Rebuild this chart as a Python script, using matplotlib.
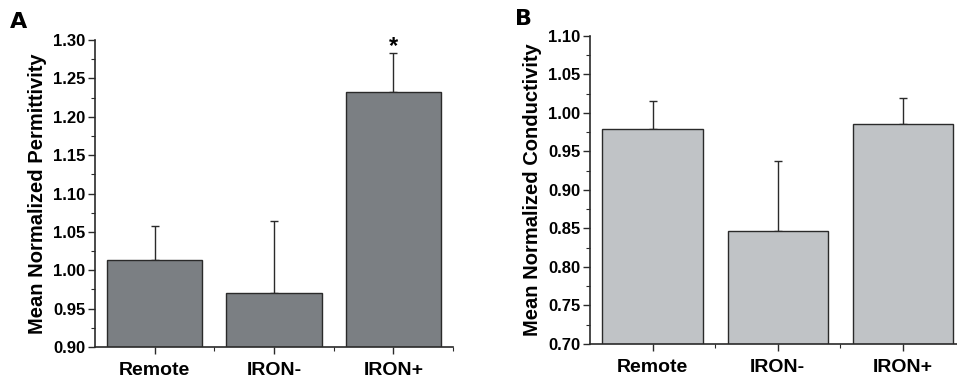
import matplotlib
matplotlib.use('Agg')
import matplotlib.pyplot as plt
from matplotlib.ticker import MultipleLocator, FixedLocator

plt.rcParams['font.family'] = ['Liberation Sans', 'DejaVu Sans']

groups = ['Remote', 'IRON-', 'IRON+']

permittivity = [1.013, 0.971, 1.232]
permittivity_err = [0.045, 0.093, 0.051]

conductivity = [0.979, 0.847, 0.985]
conductivity_err = [0.037, 0.091, 0.035]

fig = plt.figure(figsize=(9.57, 3.78), dpi=100)
axA = fig.add_axes([0.0993, 0.082, 0.374, 0.812])
axB = fig.add_axes([0.6165, 0.090, 0.392, 0.815])


def style_panel(ax, values, errs, color, ylim, ylabel):
    x = [1, 2, 3]
    ax.bar(x, values, width=0.8, color=color, edgecolor='#2a2a2a', linewidth=1.0, zorder=2)
    ax.errorbar(x, values, yerr=[[0, 0, 0], errs], fmt='none', ecolor='#2a2a2a',
                elinewidth=1.0, capsize=3, capthick=1.0, zorder=1)
    ax.set_xlim(0.5, 3.5)
    ax.set_ylim(*ylim)
    ax.set_xticks(x)
    ax.set_xticklabels(groups, fontsize=14, fontweight='bold')
    ax.xaxis.set_minor_locator(FixedLocator([1.5, 2.5, 3.5]))
    ax.yaxis.set_major_locator(MultipleLocator(0.05))
    ax.yaxis.set_minor_locator(MultipleLocator(0.025))
    ax.yaxis.set_major_formatter(matplotlib.ticker.FormatStrFormatter('%.2f'))
    for lab in ax.get_yticklabels():
        lab.set_fontsize(12)
        lab.set_fontweight('bold')
    ax.tick_params(axis='both', which='major', direction='out', length=5, width=1, color='#2a2a2a')
    ax.tick_params(axis='both', which='minor', direction='out', length=3, width=0.8, color='#2a2a2a')
    ax.tick_params(axis='y', which='major', pad=2)
    ax.tick_params(axis='x', which='major', pad=6)
    ax.spines['top'].set_visible(False)
    ax.spines['right'].set_visible(False)
    for s in ['left', 'bottom']:
        ax.spines[s].set_linewidth(1.2)
        ax.spines[s].set_color('#2a2a2a')
    ax.set_ylabel(ylabel, fontsize=14.5, fontweight='bold', labelpad=4)


style_panel(axA, permittivity, permittivity_err, '#7b7f83', (0.90, 1.30),
            'Mean Normalized Permittivity')
style_panel(axB, conductivity, conductivity_err, '#c0c3c6', (0.70, 1.10),
            'Mean Normalized Conductivity')

axA.text(3, permittivity[2] + permittivity_err[2] - 0.006, '*', ha='center', va='bottom',
         fontsize=17, fontweight='bold')

fig.text(0.010, 0.925, 'A', fontsize=16, fontweight='bold', family='DejaVu Sans')
fig.text(0.538, 0.935, 'B', fontsize=16, fontweight='bold', family='DejaVu Sans Condensed')

fig.savefig('out.png', dpi=100)
